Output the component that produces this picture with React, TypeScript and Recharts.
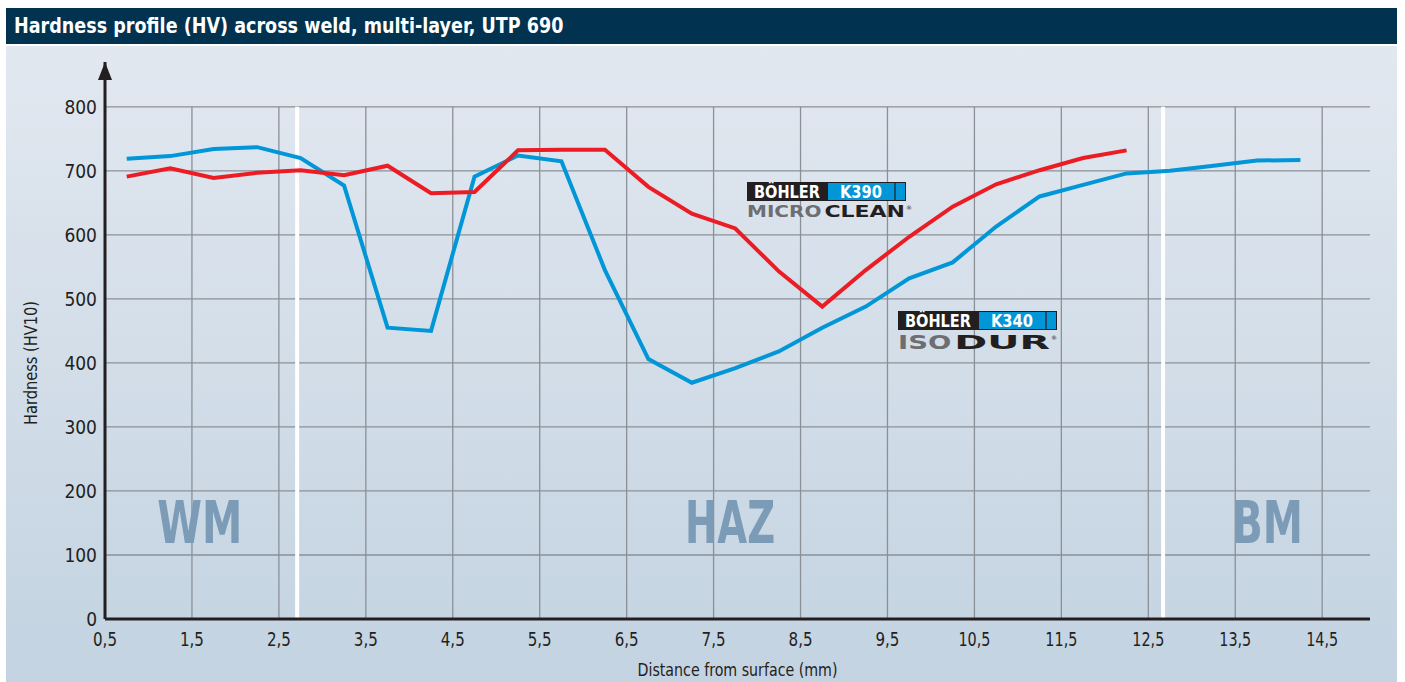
import React from 'react'
import { LineChart, Line, XAxis, YAxis, ReferenceLine, ReferenceDot } from 'recharts'

// ─── data ────────────────────────────────────────────────────
const distance = [0.75, 1.25, 1.75, 2.25, 2.75, 3.25, 3.75, 4.25, 4.75, 5.25, 5.75, 6.25, 6.75, 7.25,
  7.75, 8.25, 8.75, 9.25, 9.75, 10.25, 10.75, 11.25, 11.75, 12.25, 12.75, 13.25, 13.75, 14.25]
const k340 = [719, 723, 734, 737, 720, 677, 455, 450, 691, 724, 715, 545, 406, 369,
  392, 418, 455, 488, 532, 557, 613, 660, 678, 696, 700, 708, 716, 717]
const k390 = [691, 704, 689, 697, 701, 693, 708, 665, 667, 732, 733, 733, 675, 633,
  610, 543, 488, 545, 597, 644, 679, 701, 720, 732]
const xTicks = [0.5, 1.5, 2.5, 3.5, 4.5, 5.5, 6.5, 7.5, 8.5, 9.5, 10.5, 11.5, 12.5, 13.5, 14.5]
const yTicks = [0, 100, 200, 300, 400, 500, 600, 700, 800]
const zoneBounds = [2.71, 12.67]
const zones = [
  { name: 'WM', x: 1.59, w: 85 },
  { name: 'HAZ', x: 7.69, w: 90 },
  { name: 'BM', x: 13.87, w: 71 },
]

const data = distance.map((d, i) => ({ d, k340: k340[i], k390: k390[i] ?? null }))

const FONT = '"Liberation Sans Narrow", "DejaVu Sans Condensed", "Open Sans", sans-serif'
const BLUE = '#0096d7'
const RED = '#ec1c24'
const GRID = '#8b9096'
const INK = '#231f20'

const fmt = (v: number) => String(v).replace('.', ',')

function XTick(props: any) {
  const { x, y, payload } = props
  const s = fmt(payload.value)
  return (
    <text x={x} y={y + 19} textAnchor="middle" fontFamily={FONT} fontSize={19} fill={INK}
      textLength={s.length * 8} lengthAdjust="spacingAndGlyphs">
      {s}
    </text>
  )
}

function YTick(props: any) {
  const { x, y, payload } = props
  return (
    <text x={x} y={y + 7} textAnchor="end" fontFamily={FONT} fontSize={19} fill={INK}>
      {payload.value}
    </text>
  )
}

const zoneShape = (text: string, w: number) => (p: any) => (
  <text x={p.cx} y={p.cy} textAnchor="middle" dominantBaseline="central" textLength={w}
    lengthAdjust="spacingAndGlyphs" fontFamily={FONT} fontWeight="bold" fontSize={58} fill="#7b9bb7">{text}</text>
)

const arrowShape = (p: any) => (
  <polygon points={`${p.cx},${p.cy} ${p.cx - 7},${p.cy + 18} ${p.cx + 7},${p.cy + 18}`} fill={INK} />
)

function Badge({ grade, left, top }: { grade: string; left: number; top: number }) {
  return (
    <svg style={{ position: 'absolute', left, top }} width={160} height={20}>
      <rect x={0} y={0} width={80} height={19} fill={INK} />
      <rect x={80.5} y={0.5} width={78} height={18} fill={BLUE} stroke={INK} strokeWidth={1} />
      <line x1={148} y1={0} x2={148} y2={19} stroke={INK} strokeWidth={1.2} />
      <text x={40} y={16} textAnchor="middle" fontFamily={FONT} fontWeight="bold" fontSize={17} fill="#fff"
        textLength={66} lengthAdjust="spacingAndGlyphs">BÖHLER</text>
      <text x={114} y={16} textAnchor="middle" fontFamily={FONT} fontWeight="bold" fontSize={17} fill="#fff"
        textLength={42} lengthAdjust="spacingAndGlyphs">{grade}</text>
    </svg>
  )
}

function Brand({ left, top, light, heavy, width, lightShare, h }: {
  left: number; top: number; light: string; heavy: string; width: number; lightShare: number; h: number
}) {
  const lw = width * lightShare
  return (
    <svg style={{ position: 'absolute', left, top, overflow: 'visible' }} width={width + 8} height={h + 6}>
      <text x={0} y={h + 1} fontFamily="DejaVu Sans" fontWeight="bold" fontSize={h * 1.38} fill="#6d6e71"
        textLength={lw - 3} lengthAdjust="spacingAndGlyphs">{light}</text>
      <text x={lw} y={h + 1} fontFamily="DejaVu Sans" fontWeight="bold" fontSize={h * 1.38} fill={INK}
        textLength={width - lw} lengthAdjust="spacingAndGlyphs">{heavy}</text>
      <text x={width + 1} y={6} fontFamily="DejaVu Sans" fontSize={6} fill={INK}>®</text>
    </svg>
  )
}

export default function App() {
  return (
    <div style={{ position: 'absolute', left: 0, top: 0, width: 1405, height: 682, background: '#fff', overflow: 'hidden' }}>
      <div style={{ position: 'absolute', left: 6, top: 8, width: 1391, height: 36, background: '#01324f' }}>
        <div style={{ position: 'absolute', left: 8, top: 4, color: '#fff', fontFamily: FONT, fontWeight: 'bold',
          fontSize: 21, lineHeight: '28px', whiteSpace: 'nowrap', transform: 'scaleX(0.93)', transformOrigin: 'left' }}>
          Hardness profile (HV) across weld, multi-layer, UTP 690
        </div>
      </div>
      <div style={{ position: 'absolute', left: 6, top: 46, width: 1391, height: 636,
        background: 'linear-gradient(to bottom, #e2e8f0, #c3d3e1)' }} />
      <div style={{ position: 'absolute', left: 0, top: 0 }}>
        <LineChart width={1405} height={682} data={data} margin={{ top: 62, right: 35, bottom: 0, left: 0 }}>
          <XAxis dataKey="d" type="number" domain={[0.5, 15.05]} ticks={xTicks} tick={<XTick />}
            tickLine={false} axisLine={{ stroke: INK, strokeWidth: 3 }} height={63} interval={0}
            label={({ viewBox }: any) => (
              <text x={viewBox.x + viewBox.width / 2} y={676} textAnchor="middle" fontFamily={FONT}
                fontSize={18} fill={INK} textLength={200} lengthAdjust="spacingAndGlyphs">Distance from surface (mm)</text>
            )} />
          <YAxis type="number" domain={[0, 870]} ticks={yTicks} tick={<YTick />} tickLine={false}
            axisLine={{ stroke: INK, strokeWidth: 3 }} width={105} interval={0}
            label={() => (
              <text x={37} y={363} textAnchor="middle" transform="rotate(-90 37 363)" fontFamily={FONT}
                fontSize={18} fill={INK} textLength={124} lengthAdjust="spacingAndGlyphs">Hardness (HV10)</text>
            )} />
          {yTicks.slice(1).map(v => (
            <ReferenceLine key={'h' + v} y={v} stroke={GRID} strokeWidth={1.3} />
          ))}
          {xTicks.slice(1).map(v => (
            <ReferenceLine key={'v' + v} segment={[{ x: v, y: 0 }, { x: v, y: 800 }]} stroke={GRID} strokeWidth={1.3} />
          ))}
          {zoneBounds.map(v => (
            <ReferenceLine key={'z' + v} segment={[{ x: v, y: 0 }, { x: v, y: 800 }]} stroke="#fff" strokeWidth={4} />
          ))}
          {zones.map(z => (
            <ReferenceDot key={z.name} x={z.x} y={150} r={0} shape={zoneShape(z.name, z.w)} />
          ))}
          <ReferenceDot x={0.5} y={870} r={0} shape={arrowShape} />
          <Line dataKey="k340" type="linear" stroke={BLUE} strokeWidth={4} dot={false} isAnimationActive={false} />
          <Line dataKey="k390" type="linear" stroke={RED} strokeWidth={4} dot={false} isAnimationActive={false} />
        </LineChart>
      </div>
      <Badge grade="K390" left={747} top={182} />
      <Brand left={747} top={204} light="MICRO" heavy="CLEAN" width={158} lightShare={0.49} h={12} />
      <Badge grade="K340" left={898} top={311} />
      <Brand left={898} top={334} light="ISO" heavy="DUR" width={152} lightShare={0.37} h={14} />
    </div>
  )
}
